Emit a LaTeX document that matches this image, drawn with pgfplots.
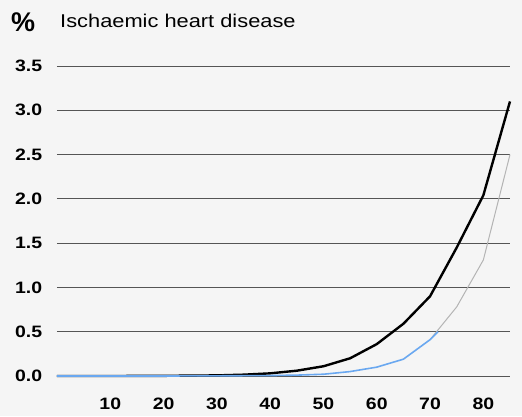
\documentclass[border=0pt]{standalone}
\usepackage{pgfplots}
\pgfplotsset{compat=1.18}
\usepackage{fontspec}
\setmainfont{Liberation Sans}
\definecolor{bg}{HTML}{F5F5F5}
\definecolor{gridc}{HTML}{555555}
\definecolor{lblue}{HTML}{6AA8F0}
\definecolor{lgrey}{HTML}{B4B4B4}
\begin{document}
\begin{tikzpicture}[x=1pt,y=1pt]
\fill[bg] (0,0) rectangle (522,416);
\node[anchor=base west,inner sep=0pt,font=\fontsize{27}{29}\selectfont\bfseries] at (11,384) {\%};
\node[anchor=base west,inner sep=0pt,xscale=1.18,font=\fontsize{18.5}{20}\selectfont] at (60,388) {Ischaemic heart disease};
\begin{axis}[
  at={(57pt,40pt)}, anchor=origin,
  scale only axis, width=453pt, height=310pt,
  xmin=0, xmax=85, ymin=0, ymax=3.5,
  axis line style={draw=none},
  xmajorgrids=false, ymajorgrids=true,
  major grid style={draw=gridc, line width=0.8pt},
  major tick length=0pt,
  xtick={10,20,30,40,50,60,70,80},
  ytick={0,0.5,1,1.5,2,2.5,3,3.5},
  yticklabel style={/pgf/number format/fixed,/pgf/number format/fixed zerofill,/pgf/number format/precision=1, font=\fontsize{16.5}{18}\selectfont\bfseries, xscale=1.18, xshift=-9pt, /pgf/number format/assume math mode=true},
  xticklabel style={font=\fontsize{16.5}{18}\selectfont\bfseries, xscale=1.18, yshift=-18pt, /pgf/number format/assume math mode=true},
  clip=false,
]
\addplot[lgrey, line width=1pt] coordinates {(70,0.41) (75,0.78) (80,1.31) (85,2.5)};
\addplot[black, line width=2.4pt] coordinates {
(0,0) (10,0.0) (20,0.002) (30,0.007) (35,0.015) (40,0.03) (45,0.06) (50,0.11) (55,0.20) (60,0.36) (65,0.59) (70,0.90) (75,1.45) (80,2.04) (85,3.1)};
\addplot[lblue, line width=1.6pt] coordinates {
(0,0) (10,0) (20,0) (30,0.002) (40,0.005) (45,0.01) (50,0.02) (55,0.05) (60,0.10) (65,0.19) (70,0.41) (71.5,0.5)};
\end{axis}
\end{tikzpicture}
\end{document}
